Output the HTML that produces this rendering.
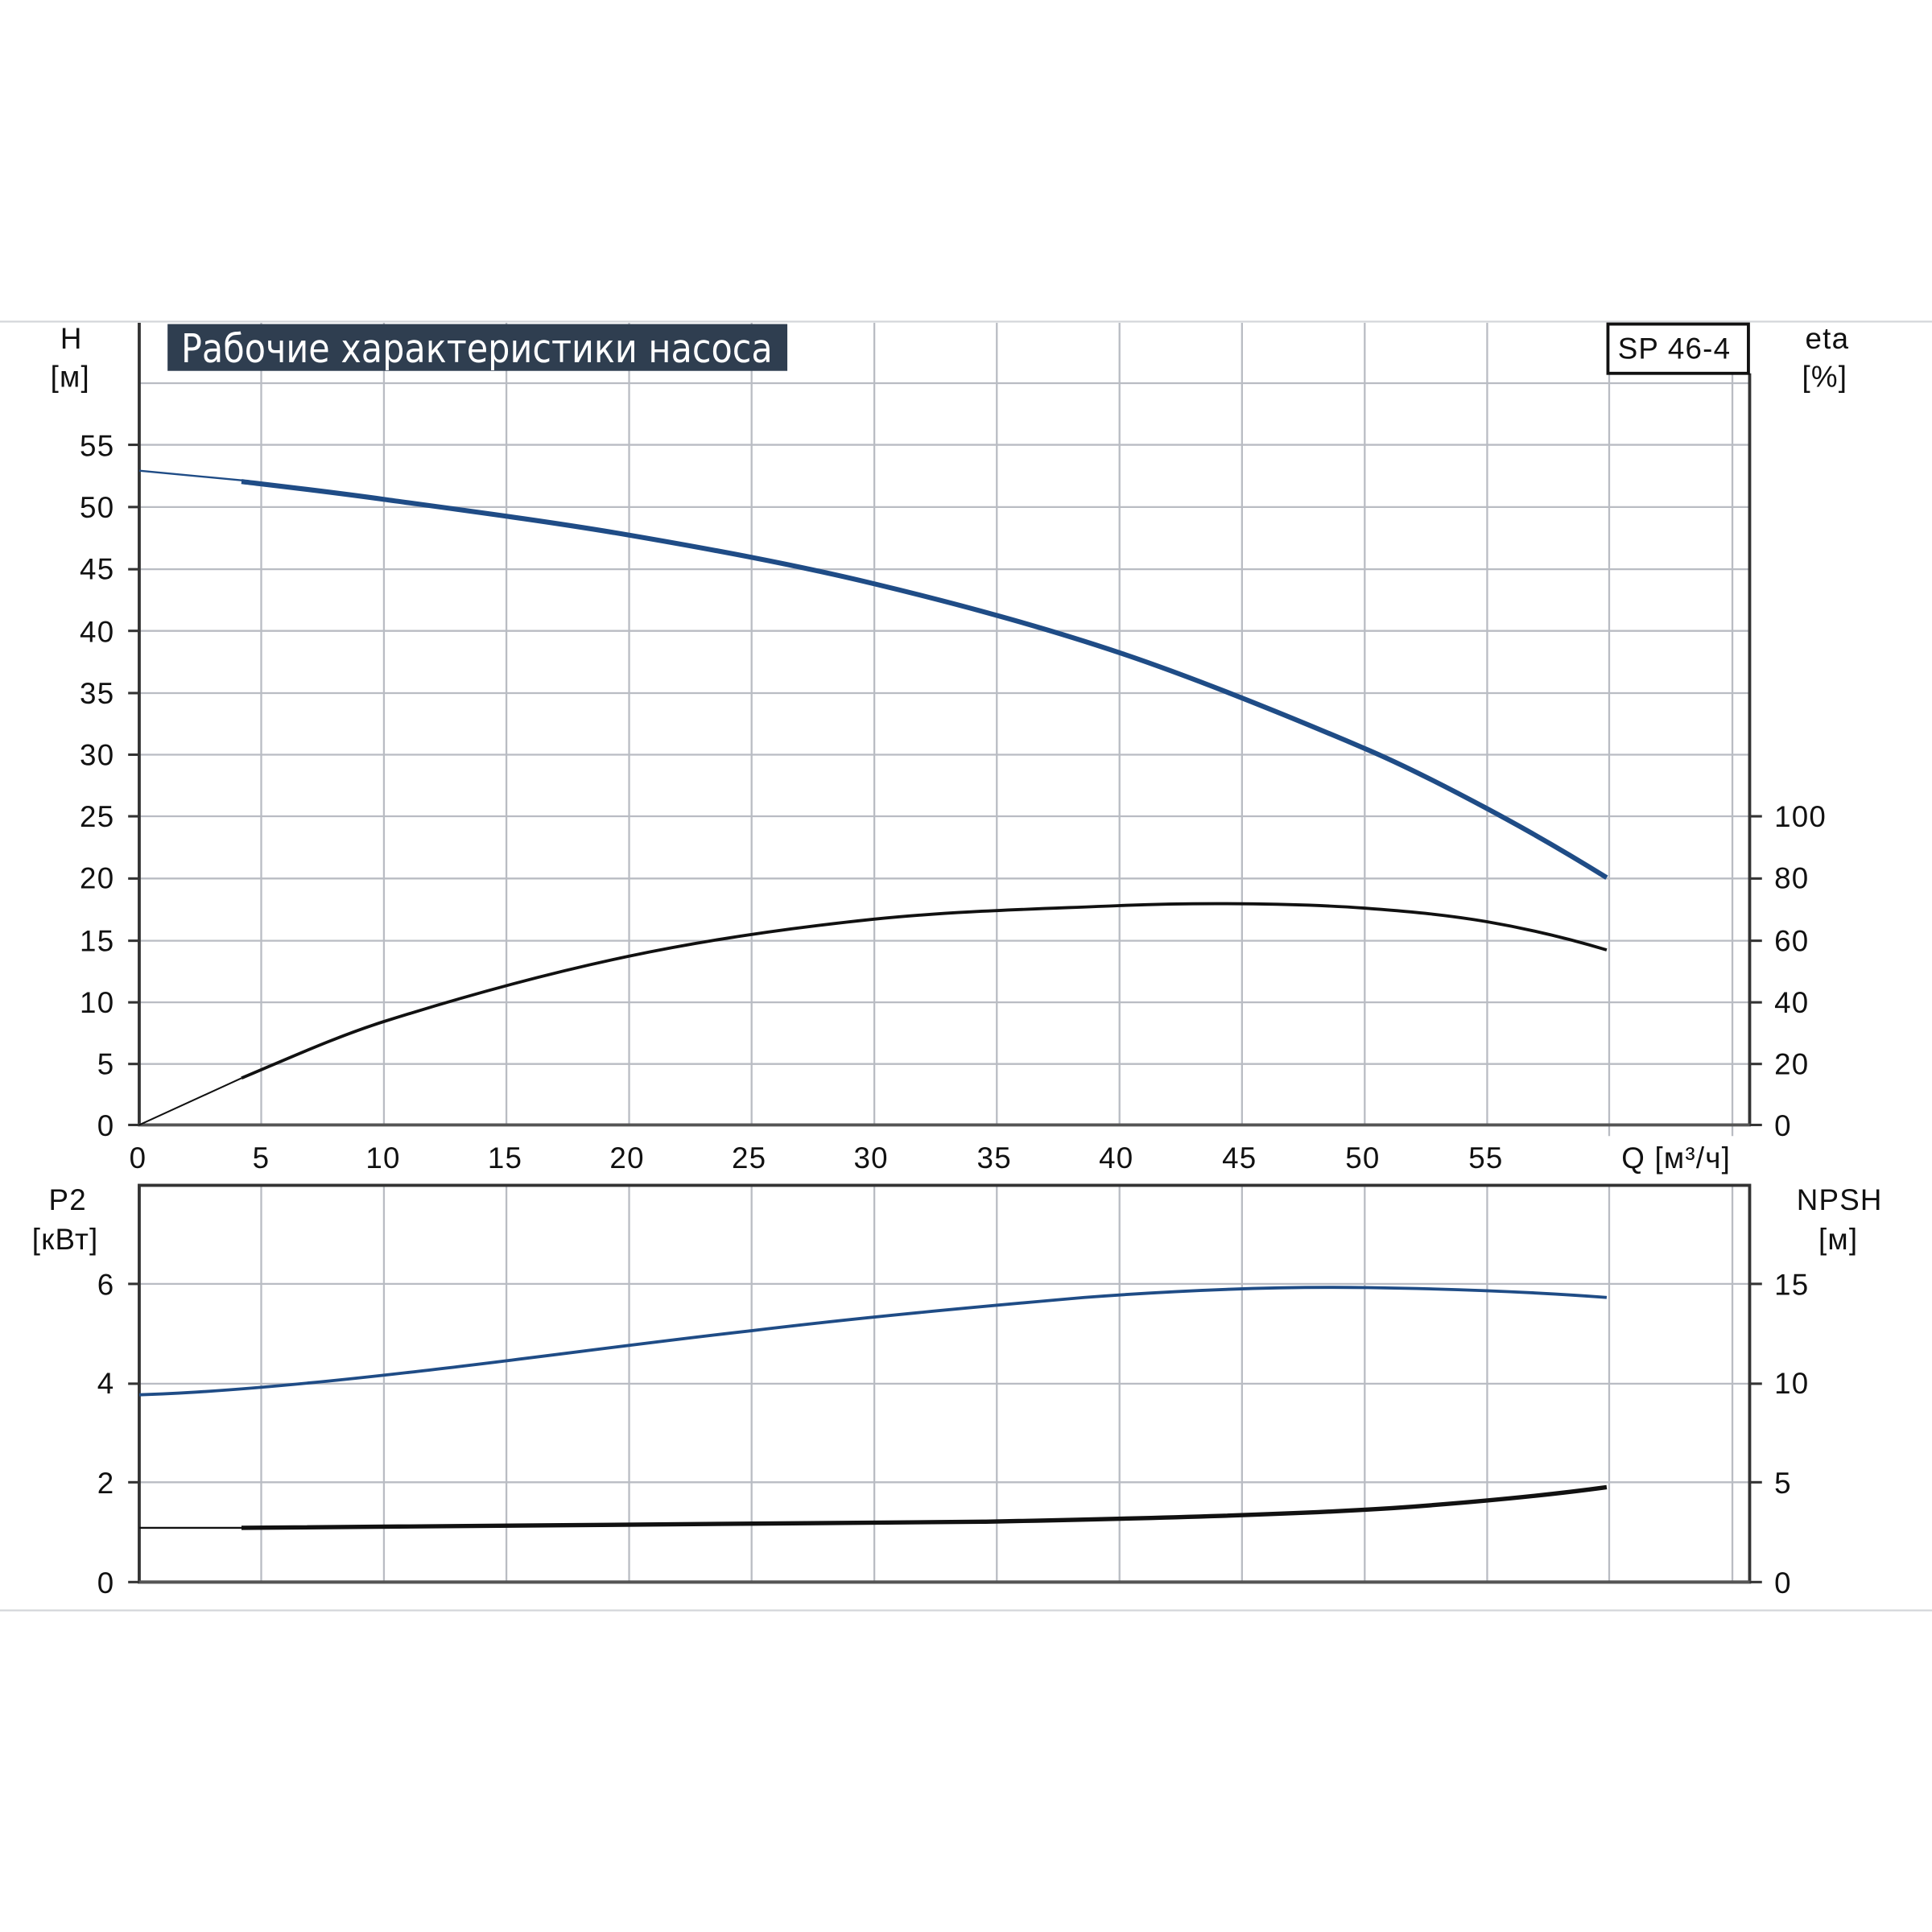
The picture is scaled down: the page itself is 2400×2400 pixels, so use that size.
<!DOCTYPE html>
<html><head><meta charset="utf-8"><style>
html,body{margin:0;padding:0;background:#fff;}
svg{display:block;}
text{font-family:"Liberation Sans","DejaVu Sans",sans-serif;fill:#111;}
</style></head><body>
<svg width="2400" height="2400" viewBox="0 0 1568 1568" xmlns="http://www.w3.org/2000/svg">
<rect width="1568" height="1568" fill="#fff"/>
<line x1="0" y1="261" x2="1568" y2="261" stroke="#d4d6da" stroke-width="1.5"/>
<line x1="0" y1="1307" x2="1568" y2="1307" stroke="#d4d6da" stroke-width="1.5"/>
<g stroke="#b9bcc3" stroke-width="1.5">
<line x1="212" y1="262" x2="212" y2="913"/><line x1="311.6" y1="262" x2="311.6" y2="913"/>
<line x1="411" y1="262" x2="411" y2="913"/><line x1="510.6" y1="262" x2="510.6" y2="913"/>
<line x1="610" y1="262" x2="610" y2="913"/><line x1="709.6" y1="262" x2="709.6" y2="913"/>
<line x1="809" y1="262" x2="809" y2="913"/><line x1="908.6" y1="262" x2="908.6" y2="913"/>
<line x1="1008" y1="262" x2="1008" y2="913"/><line x1="1107.6" y1="262" x2="1107.6" y2="913"/>
<line x1="1207" y1="262" x2="1207" y2="913"/><line x1="1306" y1="262" x2="1306" y2="922"/>
<line x1="1406" y1="262" x2="1406" y2="922"/>
<line x1="113" y1="311" x2="1420" y2="311"/><line x1="113" y1="361" x2="1420" y2="361"/>
<line x1="113" y1="411.5" x2="1420" y2="411.5"/><line x1="113" y1="462" x2="1420" y2="462"/>
<line x1="113" y1="512" x2="1420" y2="512"/><line x1="113" y1="562.5" x2="1420" y2="562.5"/>
<line x1="113" y1="612.5" x2="1420" y2="612.5"/><line x1="113" y1="662.5" x2="1420" y2="662.5"/>
<line x1="113" y1="713" x2="1420" y2="713"/><line x1="113" y1="763.5" x2="1420" y2="763.5"/>
<line x1="113" y1="813.5" x2="1420" y2="813.5"/><line x1="113" y1="863.5" x2="1420" y2="863.5"/>
<line x1="212" y1="962" x2="212" y2="1284"/><line x1="311.6" y1="962" x2="311.6" y2="1284"/>
<line x1="411" y1="962" x2="411" y2="1284"/><line x1="510.6" y1="962" x2="510.6" y2="1284"/>
<line x1="610" y1="962" x2="610" y2="1284"/><line x1="709.6" y1="962" x2="709.6" y2="1284"/>
<line x1="809" y1="962" x2="809" y2="1284"/><line x1="908.6" y1="962" x2="908.6" y2="1284"/>
<line x1="1008" y1="962" x2="1008" y2="1284"/><line x1="1107.6" y1="962" x2="1107.6" y2="1284"/>
<line x1="1207" y1="962" x2="1207" y2="1284"/><line x1="1306" y1="962" x2="1306" y2="1284"/>
<line x1="1406" y1="962" x2="1406" y2="1284"/>
<line x1="113" y1="1042" x2="1420" y2="1042"/><line x1="113" y1="1123" x2="1420" y2="1123"/>
<line x1="113" y1="1203" x2="1420" y2="1203"/>
</g>
<g stroke="#333" stroke-width="2.5" fill="none">
<line x1="113" y1="262" x2="113" y2="914"/>
<line x1="1420" y1="303" x2="1420" y2="914"/>
<line x1="112" y1="913" x2="1421" y2="913" stroke="#555"/>
<rect x="113" y="962" width="1307" height="322"/>
<line x1="112" y1="1284" x2="1421" y2="1284" stroke="#555"/>
</g>
<g stroke="#333" stroke-width="2">
<line x1="104" y1="361" x2="113" y2="361"/><line x1="104" y1="411.5" x2="113" y2="411.5"/>
<line x1="104" y1="462" x2="113" y2="462"/><line x1="104" y1="512" x2="113" y2="512"/>
<line x1="104" y1="562.5" x2="113" y2="562.5"/><line x1="104" y1="612.5" x2="113" y2="612.5"/>
<line x1="104" y1="662.5" x2="113" y2="662.5"/><line x1="104" y1="713" x2="113" y2="713"/>
<line x1="104" y1="763.5" x2="113" y2="763.5"/><line x1="104" y1="813.5" x2="113" y2="813.5"/>
<line x1="104" y1="863.5" x2="113" y2="863.5"/><line x1="104" y1="913" x2="113" y2="913"/>
<line x1="1420" y1="662.5" x2="1430" y2="662.5"/><line x1="1420" y1="713" x2="1430" y2="713"/>
<line x1="1420" y1="763.5" x2="1430" y2="763.5"/><line x1="1420" y1="813.5" x2="1430" y2="813.5"/>
<line x1="1420" y1="863.5" x2="1430" y2="863.5"/><line x1="1420" y1="913" x2="1430" y2="913"/>
<line x1="104" y1="1042" x2="113" y2="1042"/><line x1="104" y1="1123" x2="113" y2="1123"/>
<line x1="104" y1="1203" x2="113" y2="1203"/><line x1="104" y1="1284" x2="113" y2="1284"/>
<line x1="1420" y1="1042" x2="1430" y2="1042"/><line x1="1420" y1="1123" x2="1430" y2="1123"/>
<line x1="1420" y1="1203" x2="1430" y2="1203"/><line x1="1420" y1="1284" x2="1430" y2="1284"/>
</g>
<rect x="136" y="263" width="503" height="38" fill="#2f3e50"/>
<text x="147" y="294" font-size="32" style="fill:#fff;font-family:'DejaVu Sans Condensed','DejaVu Sans',sans-serif" textLength="480" lengthAdjust="spacingAndGlyphs">Рабочие характеристики насоса</text>
<rect x="1305" y="263" width="114" height="40" fill="#fff" stroke="#111" stroke-width="2.5"/>
<text x="1313" y="291" font-size="24" letter-spacing="0.8">SP 46-4</text>
<g font-size="24" letter-spacing="0.8">
<text x="58" y="283" text-anchor="middle">H</text>
<text x="57" y="314" text-anchor="middle">[м]</text>
<text x="1483" y="283" text-anchor="middle">eta</text>
<text x="1481" y="314" text-anchor="middle">[%]</text>
<text x="55" y="982" text-anchor="middle">P2</text>
<text x="53" y="1014" text-anchor="middle">[кВт]</text>
<text x="1493" y="982" text-anchor="middle">NPSH</text>
<text x="1492" y="1014" text-anchor="middle">[м]</text>
<text x="1316" y="948">Q [м³/ч]</text>
</g>
<g font-size="24" letter-spacing="0.8" text-anchor="end">
<text x="93" y="370">55</text><text x="93" y="420">50</text><text x="93" y="470">45</text>
<text x="93" y="521">40</text><text x="93" y="571">35</text><text x="93" y="621">30</text>
<text x="93" y="671">25</text><text x="93" y="721">20</text><text x="93" y="772">15</text>
<text x="93" y="822">10</text><text x="93" y="872">5</text><text x="93" y="922">0</text>
<text x="93" y="1051">6</text><text x="93" y="1131">4</text><text x="93" y="1212">2</text><text x="93" y="1293">0</text>
</g>
<g font-size="24" letter-spacing="0.8">
<text x="1440" y="671">100</text><text x="1440" y="721">80</text><text x="1440" y="772">60</text>
<text x="1440" y="822">40</text><text x="1440" y="872">20</text><text x="1440" y="922">0</text>
<text x="1440" y="1051">15</text><text x="1440" y="1131">10</text><text x="1440" y="1212">5</text><text x="1440" y="1293">0</text>
</g>
<g font-size="24" letter-spacing="0.8" text-anchor="middle">
<text x="112" y="948">0</text><text x="212" y="948">5</text><text x="311" y="948">10</text>
<text x="410" y="948">15</text><text x="509" y="948">20</text><text x="608" y="948">25</text>
<text x="707" y="948">30</text><text x="807" y="948">35</text><text x="906" y="948">40</text>
<text x="1006" y="948">45</text><text x="1106" y="948">50</text><text x="1206" y="948">55</text>
</g>
<g fill="none" stroke-linejoin="round">
<path d="M113,382 L198,390" stroke="#1f4c86" stroke-width="1.5"/>
<path d="M196,390.8 C215.3,393.2 259.4,398.05 311.8,405.3 C364.2,412.55 444.3,422.9 510.6,434.3 C576.9,445.7 643.1,457.9 709.4,473.8 C775.7,489.7 841.9,507.4 908.2,529.6 C974.5,551.8 1057.3,586.1 1107,607.2 C1140.1,621.2 1173.3,638.3 1206.4,656 C1238.9,673.3 1271.5,692.1 1304,712.3" stroke="#1f4c86" stroke-width="4"/>
<path d="M113,913 L196,875" stroke="#111" stroke-width="1.3"/>
<path d="M196,875 C234.6,858.8 273.2,841.2 311.8,829 C378.1,808.1 444.3,789.9 510.6,776 C576.9,762.1 643.1,752.8 709.4,746 C775.7,739.2 841.9,737.8 908.2,735 C941.3,733.6 974.5,733.2 1007.6,733.5 C1040.7,733.8 1073.9,734.6 1107,737 C1140.1,739.4 1173.3,742.3 1206.4,748 C1238.9,753.6 1271.5,761.2 1304,771" stroke="#111" stroke-width="2.5"/>
<path d="M113,1132 C180,1130 260,1122 330,1114 C420,1104 520,1090 610,1080 C700,1069 800,1060 880,1053 C960,1047 1040,1044 1110,1045 C1180,1046 1250,1049 1304,1053" stroke="#1f4c86" stroke-width="2.5"/>
<path d="M113,1240 L196,1240" stroke="#111" stroke-width="1.5"/>
<path d="M196,1240 C400,1240 600,1238 800,1235 C950,1232 1050,1229 1130,1224 C1200,1219 1260,1213 1304,1207" stroke="#111" stroke-width="3.5"/>
</g>
</svg>
</body></html>
